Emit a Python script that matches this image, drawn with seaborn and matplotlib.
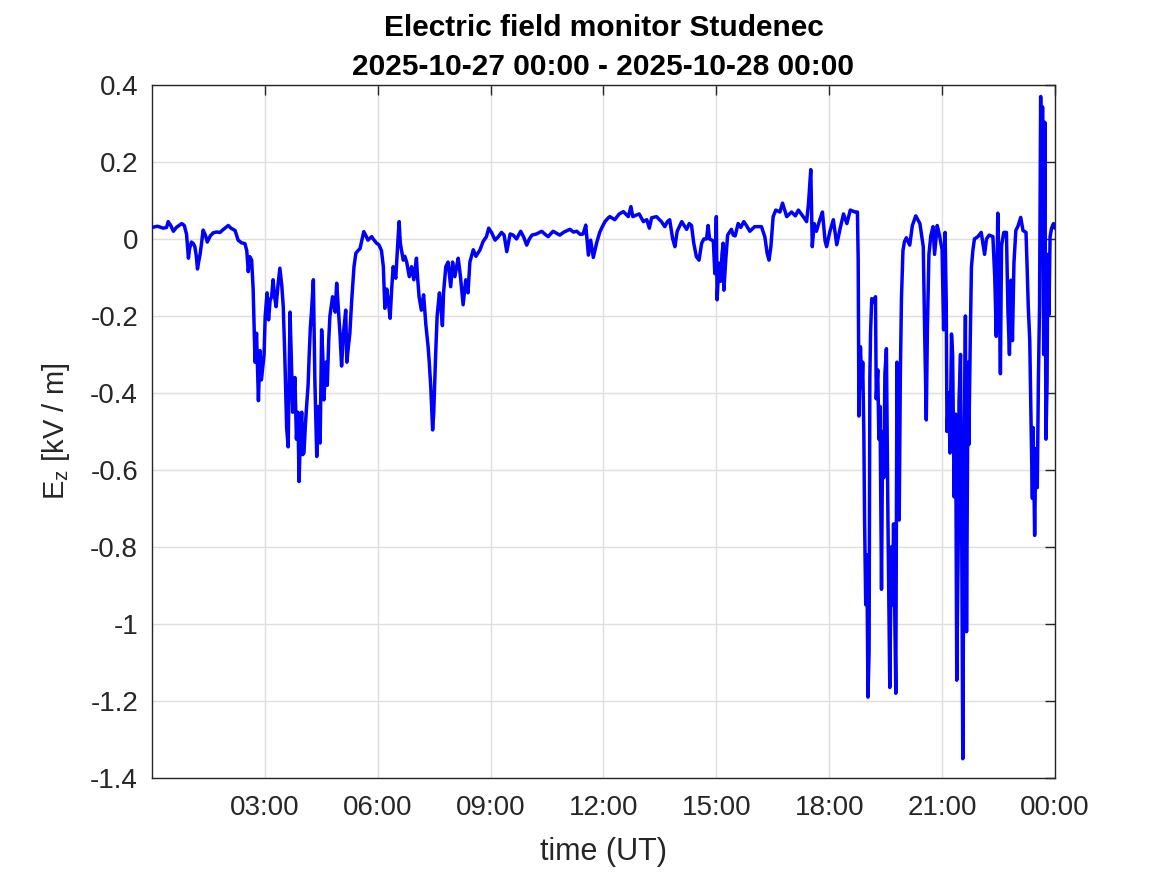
import numpy as np
import matplotlib
matplotlib.use("Agg")
import matplotlib.pyplot as plt
import seaborn as sns

# ---- data (hours UT, Ez in kV/m) ----
hours = [
    0.00, 0.15, 0.30, 0.39, 0.43, 0.50, 0.57, 0.65, 0.79, 0.86, 0.92, 0.97, 1.00, 1.05, 1.10,
    1.14, 1.18, 1.21, 1.25, 1.28, 1.32, 1.36, 1.42, 1.47, 1.55, 1.63, 1.72, 1.81, 1.90, 2.03,
    2.10, 2.21, 2.29, 2.38, 2.47, 2.52, 2.56, 2.60, 2.65, 2.69, 2.74, 2.78, 2.83, 2.87, 2.91,
    2.98, 3.01, 3.06, 3.10, 3.14, 3.18, 3.22, 3.26, 3.30, 3.35, 3.40, 3.45, 3.49, 3.53, 3.58,
    3.62, 3.67, 3.71, 3.74, 3.80, 3.84, 3.88, 3.91, 3.95, 3.98, 4.01, 4.04, 4.08, 4.11, 4.15,
    4.18, 4.21, 4.24, 4.29, 4.33, 4.38, 4.42, 4.47, 4.51, 4.54, 4.57, 4.62, 4.66, 4.70, 4.73,
    4.80, 4.87, 4.91, 4.96, 5.00, 5.04, 5.09, 5.15, 5.18, 5.22, 5.26, 5.31, 5.37, 5.42, 5.48,
    5.53, 5.63, 5.68, 5.74, 5.84, 5.88, 5.97, 6.03, 6.10, 6.15, 6.19, 6.24, 6.28, 6.33, 6.37,
    6.41, 6.48, 6.51, 6.54, 6.57, 6.60, 6.63, 6.68, 6.72, 6.77, 6.84, 6.90, 6.96, 7.03, 7.06,
    7.10, 7.16, 7.22, 7.28, 7.34, 7.37, 7.41, 7.46, 7.49, 7.54, 7.58, 7.64, 7.68, 7.72, 7.75,
    7.81, 7.87, 7.94, 7.99, 8.05, 8.10, 8.14, 8.20, 8.27, 8.34, 8.40, 8.45, 8.54, 8.61, 8.72,
    8.80, 8.89, 8.95, 9.03, 9.12, 9.20, 9.29, 9.36, 9.43, 9.52, 9.60, 9.69, 9.80, 9.88, 9.96,
    10.03, 10.10, 10.22, 10.36, 10.45, 10.53, 10.66, 10.75, 10.84, 10.95, 11.11, 11.20, 11.29, 11.38, 11.46,
    11.53, 11.60, 11.66, 11.73, 11.82, 11.90, 11.96, 12.04, 12.13, 12.17, 12.30, 12.42, 12.53, 12.66, 12.73,
    12.78, 12.87, 12.95, 13.06, 13.15, 13.22, 13.28, 13.41, 13.54, 13.63, 13.70, 13.76, 13.84, 13.90, 13.96,
    14.08, 14.21, 14.28, 14.34, 14.40, 14.47, 14.54, 14.61, 14.67, 14.74, 14.78, 14.82, 14.92, 14.96, 15.00,
    15.02, 15.07, 15.11, 15.15, 15.18, 15.20, 15.25, 15.30, 15.40, 15.45, 15.50, 15.58, 15.65, 15.73, 15.80,
    15.89, 16.02, 16.20, 16.29, 16.35, 16.40, 16.45, 16.51, 16.58, 16.69, 16.76, 16.87, 17.00, 17.10, 17.18,
    17.31, 17.40, 17.45, 17.51, 17.55, 17.60, 17.66, 17.75, 17.82, 17.89, 17.93, 18.02, 18.11, 18.20, 18.29,
    18.38, 18.47, 18.56, 18.69, 18.75, 18.77, 18.79, 18.83, 18.87, 18.89, 18.92, 18.94, 18.97, 19.00, 19.03,
    19.06, 19.08, 19.10, 19.13, 19.18, 19.23, 19.25, 19.29, 19.32, 19.35, 19.39, 19.42, 19.45, 19.48, 19.52,
    19.56, 19.61, 19.65, 19.68, 19.71, 19.77, 19.80, 19.84, 19.86, 19.89, 19.92, 19.96, 20.00, 20.05, 20.14,
    20.21, 20.30, 20.41, 20.50, 20.54, 20.58, 20.61, 20.65, 20.70, 20.76, 20.80, 20.87, 20.93, 21.00, 21.04,
    21.08, 21.11, 21.13, 21.18, 21.21, 21.25, 21.28, 21.32, 21.36, 21.39, 21.43, 21.45, 21.49, 21.52, 21.55,
    21.59, 21.62, 21.65, 21.69, 21.71, 21.75, 21.78, 21.82, 21.86, 21.95, 22.04, 22.13, 22.18, 22.25, 22.35,
    22.40, 22.44, 22.48, 22.51, 22.55, 22.58, 22.64, 22.71, 22.75, 22.79, 22.83, 22.87, 22.91, 22.96, 23.02,
    23.09, 23.15, 23.23, 23.26, 23.29, 23.33, 23.37, 23.40, 23.42, 23.46, 23.49, 23.53, 23.56, 23.59, 23.62,
    23.64, 23.67, 23.70, 23.73, 23.76, 23.79, 23.81, 23.84, 23.87, 23.91, 23.96, 24.00,
]

ez = [
    0.030, 0.033, 0.028, 0.030, 0.045, 0.035, 0.020, 0.030, 0.040, 0.035, 0.012, -0.050, -0.025, -0.008, -0.012,
    -0.020, -0.045, -0.078, -0.055, -0.040, -0.010, 0.023, 0.010, -0.008, 0.008, 0.016, 0.018, 0.017, 0.025, 0.035,
    0.028, 0.022, -0.003, -0.010, -0.012, -0.030, -0.085, -0.046, -0.055, -0.130, -0.320, -0.245, -0.420, -0.290, -0.366,
    -0.300, -0.200, -0.140, -0.210, -0.160, -0.150, -0.106, -0.150, -0.176, -0.120, -0.076, -0.120, -0.176, -0.300, -0.490,
    -0.540, -0.190, -0.330, -0.450, -0.360, -0.520, -0.450, -0.630, -0.500, -0.450, -0.560, -0.556, -0.480, -0.435, -0.380,
    -0.300, -0.230, -0.190, -0.106, -0.366, -0.565, -0.435, -0.530, -0.236, -0.300, -0.418, -0.320, -0.380, -0.260, -0.200,
    -0.150, -0.190, -0.115, -0.190, -0.250, -0.330, -0.245, -0.185, -0.320, -0.280, -0.245, -0.158, -0.072, -0.037, -0.030,
    -0.025, 0.019, 0.010, -0.003, 0.006, 0.000, -0.011, -0.015, -0.030, -0.072, -0.180, -0.130, -0.160, -0.206, -0.133,
    -0.072, -0.102, -0.050, 0.000, 0.045, -0.010, -0.028, -0.055, -0.045, -0.060, -0.098, -0.072, -0.106, -0.050, -0.100,
    -0.150, -0.185, -0.145, -0.223, -0.280, -0.320, -0.384, -0.496, -0.450, -0.300, -0.200, -0.140, -0.176, -0.225, -0.140,
    -0.072, -0.060, -0.124, -0.060, -0.098, -0.070, -0.050, -0.098, -0.171, -0.106, -0.140, -0.060, -0.028, -0.045, -0.028,
    -0.007, 0.006, 0.028, 0.016, -0.003, 0.005, 0.017, 0.010, -0.033, 0.013, 0.010, 0.000, 0.020, 0.005, -0.016,
    0.000, 0.010, 0.013, 0.020, 0.012, 0.006, 0.020, 0.015, 0.010, 0.018, 0.025, 0.018, 0.020, 0.012, 0.013,
    0.036, -0.042, -0.003, -0.048, -0.010, 0.017, 0.030, 0.045, 0.055, 0.058, 0.050, 0.065, 0.071, 0.058, 0.084,
    0.058, 0.062, 0.065, 0.045, 0.050, 0.028, 0.055, 0.058, 0.045, 0.032, 0.045, 0.050, 0.000, -0.020, 0.020,
    0.045, 0.025, 0.040, 0.035, -0.011, -0.046, -0.055, -0.011, 0.000, 0.000, 0.035, 0.000, -0.005, -0.090, 0.058,
    -0.158, -0.063, -0.110, -0.040, -0.011, -0.133, -0.055, 0.010, 0.025, 0.010, 0.008, 0.040, 0.030, 0.045, 0.035,
    0.020, 0.032, 0.032, 0.005, -0.037, -0.055, -0.020, 0.058, 0.075, 0.070, 0.093, 0.058, 0.070, 0.060, 0.075,
    0.058, 0.045, 0.093, 0.180, -0.020, 0.040, 0.020, 0.050, 0.070, -0.005, -0.020, 0.020, 0.050, -0.015, 0.027,
    0.065, 0.040, 0.075, 0.070, 0.070, -0.055, -0.460, -0.280, -0.385, -0.320, -0.500, -0.730, -0.950, -0.820, -1.190,
    -1.070, -0.360, -0.240, -0.155, -0.165, -0.150, -0.415, -0.340, -0.520, -0.435, -0.910, -0.500, -0.620, -0.350, -0.285,
    -0.720, -1.165, -0.800, -0.950, -0.740, -1.180, -0.320, -0.665, -0.730, -0.360, -0.155, -0.030, -0.007, 0.003, -0.016,
    0.035, 0.060, 0.040, -0.020, -0.260, -0.470, -0.230, -0.040, 0.008, 0.032, -0.040, 0.035, 0.010, -0.028, -0.236,
    0.017, -0.163, -0.500, -0.400, -0.556, -0.247, -0.300, -0.670, -0.455, -1.146, -0.780, -0.420, -0.300, -0.736, -1.350,
    -0.545, -0.200, -1.020, -0.320, -0.534, -0.253, -0.073, -0.028, 0.000, 0.006, 0.017, -0.040, 0.000, 0.010, 0.006,
    -0.100, -0.253, 0.067, -0.062, -0.350, -0.017, 0.017, 0.017, -0.185, -0.300, -0.107, -0.264, -0.062, 0.022, 0.034,
    0.056, 0.022, 0.017, -0.073, -0.174, -0.264, -0.510, -0.674, -0.490, -0.770, -0.545, -0.646, -0.365, -0.174, 0.370,
    -0.006, 0.343, -0.300, 0.303, -0.520, -0.376, -0.040, -0.197, 0.006, 0.028, 0.040, 0.028,
]

x_ticks = [3, 6, 9, 12, 15, 18, 21, 24]
x_tick_labels = ["03:00", "06:00", "09:00", "12:00", "15:00", "18:00", "21:00", "00:00"]
y_ticks = [-1.4, -1.2, -1.0, -0.8, -0.6, -0.4, -0.2, 0.0, 0.2, 0.4]
y_tick_labels = ["-1.4", "-1.2", "-1", "-0.8", "-0.6", "-0.4", "-0.2", "0", "0.2", "0.4"]

title_text = "Electric field monitor Studenec\n2025-10-27 00:00 - 2025-10-28 00:00"

# ---- style ----
sns.set_style("white")
plt.rcParams["font.family"] = ["Liberation Sans", "DejaVu Sans"]
plt.rcParams["mathtext.fontset"] = "custom"
plt.rcParams["mathtext.rm"] = "Liberation Sans"

axis_col = "#262626"

fig = plt.figure(figsize=(11.67, 8.75), dpi=100)
ax = fig.add_axes([0.1302, 0.1109, 0.7738, 0.7920])

sns.lineplot(x=hours, y=ez, ax=ax, color="#0000ff", linewidth=2.5,
             estimator=None, sort=False, zorder=3)

ax.set_xlim(0, 24)
ax.set_ylim(-1.4, 0.4)
ax.set_xticks(x_ticks)
ax.set_xticklabels(x_tick_labels)
ax.set_yticks(y_ticks)
ax.set_yticklabels(y_tick_labels)

ax.grid(True, color="#dedede", linewidth=1.0, zorder=0)
ax.set_axisbelow(True)

ax.tick_params(axis="both", direction="in", length=7, width=1,
               top=True, right=True, color=axis_col, labelcolor=axis_col,
               labelsize=20)
ax.tick_params(axis="x", pad=12)
ax.tick_params(axis="y", pad=10)
for sp in ax.spines.values():
    sp.set_color(axis_col)
    sp.set_linewidth(1.0)

ax.set_title(title_text, fontsize=21.5, fontweight="bold", color="black",
             pad=7.5, linespacing=1.5)
ax.set_xlabel("time (UT)", fontsize=22, color=axis_col, labelpad=12)
ax.set_ylabel(r"E$_{\mathregular{z}}$ [kV / m]", fontsize=21, color=axis_col)
ax.yaxis.set_label_coords(-0.088, 0.5)

fig.savefig("out.png", dpi=100, facecolor="white")
